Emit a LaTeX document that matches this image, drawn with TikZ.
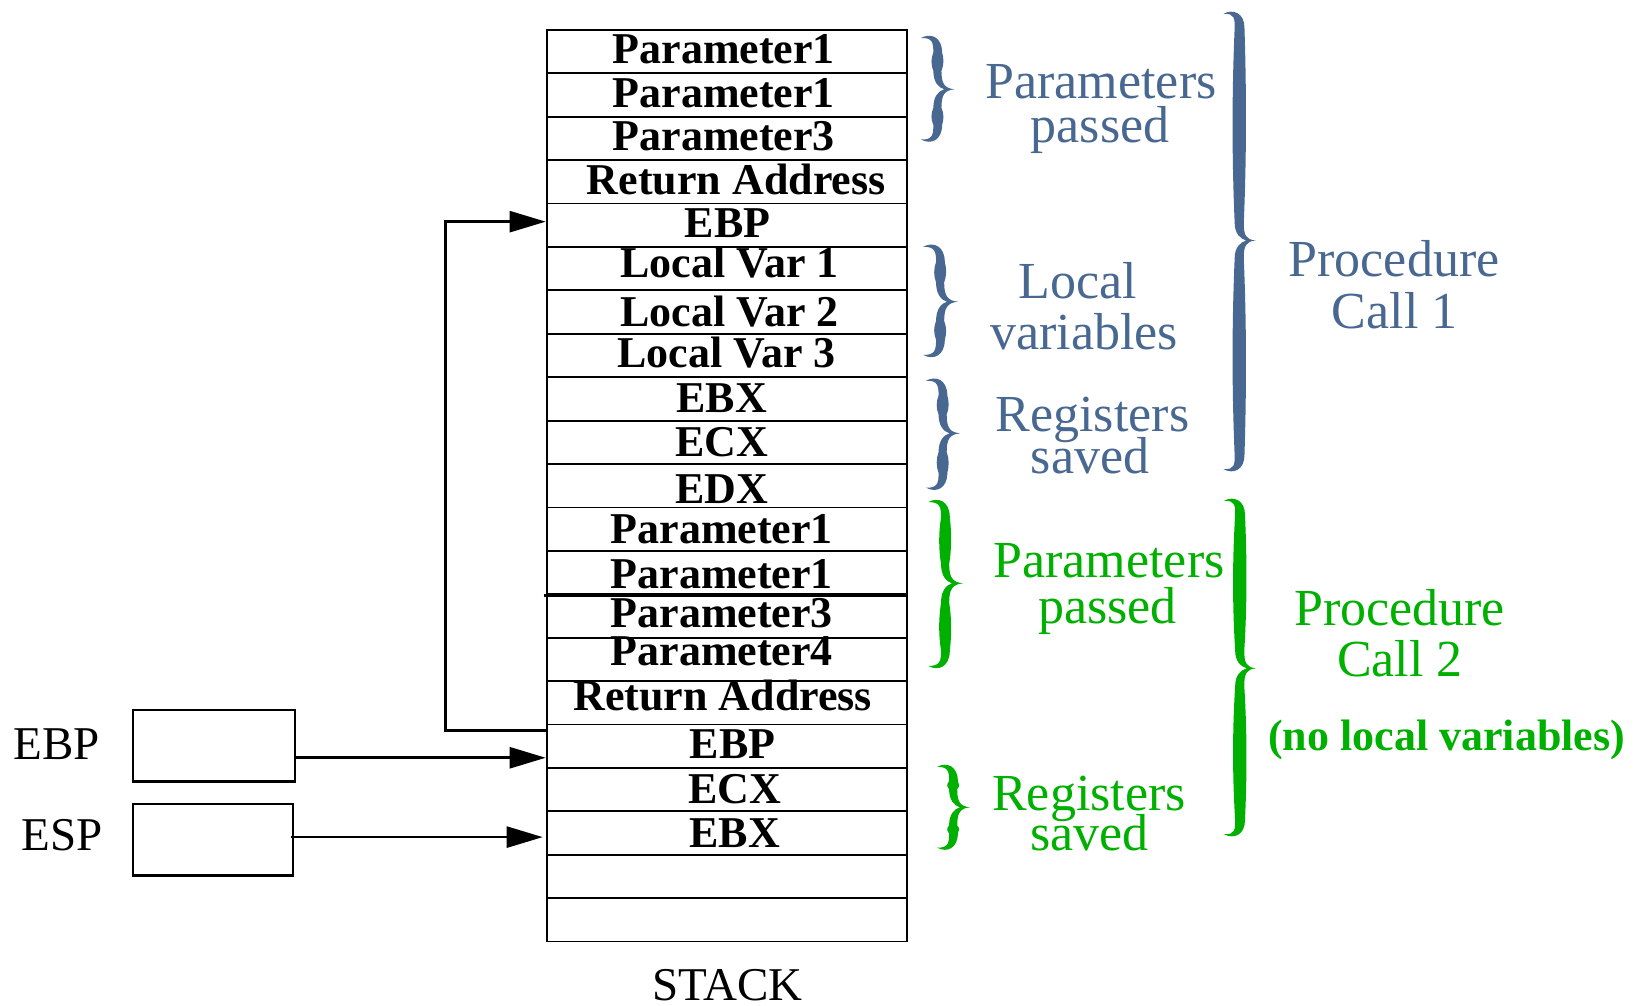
\documentclass[tikz,border=0pt]{standalone}
\usepackage{fontspec}
\setmainfont{Liberation Serif}
\newfontfamily\timesf{Liberation Serif}
\usetikzlibrary{arrows.meta}
\definecolor{cblue}{RGB}{73,104,145}
\definecolor{cgreen}{RGB}{0,176,0}
% filled curly brace: colour, x0, y0, width, height, tip y, stem thickness
\newcommand{\drawbrace}[7]{%
 \pgfmathsetmacro{\bqx}{#2}\pgfmathsetmacro{\bqy}{#3}\pgfmathsetmacro{\bqw}{#4}%
 \pgfmathsetmacro{\bqh}{#5}\pgfmathsetmacro{\bqm}{#6}\pgfmathsetmacro{\bqt}{#7}%
 \pgfmathsetmacro{\bqr}{0.55*\bqw}%
 \pgfmathsetmacro{\bqs}{\bqx+0.48*\bqw}%
 \pgfmathsetmacro{\bqxo}{\bqs+0.4*\bqt}%
 \pgfmathsetmacro{\bqxob}{\bqs+0.55*\bqt}%
 \pgfmathsetmacro{\bqxot}{\bqs+0.35*\bqt}%
 \pgfmathsetmacro{\bqxi}{\bqs-0.3*\bqt}%
 \pgfmathsetmacro{\bqxib}{\bqs-0.5*\bqt}%
 \pgfmathsetmacro{\bqxn}{\bqs+0.3*\bqt+0.1*\bqw}%
 \pgfmathsetmacro{\bqxe}{\bqx+\bqw}%
 \pgfmathsetmacro{\bqya}{\bqy+\bqr}%
 \pgfmathsetmacro{\bqyb}{\bqm-\bqr}%
 \pgfmathsetmacro{\bqyc}{\bqm+\bqr}%
 \pgfmathsetmacro{\bqybot}{\bqy+\bqh}%
 \pgfmathsetmacro{\bqyd}{\bqybot-\bqr}%
 \pgfmathsetmacro{\bqyaa}{\bqya+(\bqyb-\bqya)/3}%
 \pgfmathsetmacro{\bqyab}{\bqya+2*(\bqyb-\bqya)/3}%
 \pgfmathsetmacro{\bqyca}{\bqyc+(\bqyd-\bqyc)/3}%
 \pgfmathsetmacro{\bqycb}{\bqyc+2*(\bqyd-\bqyc)/3}%
 \pgfmathsetmacro{\bqyeone}{\bqy+0.12*\bqw}%
 \pgfmathsetmacro{\bqyetwo}{\bqybot-0.12*\bqw}%
 \fill[#1] (\bqx,\bqyeone)
  .. controls ({\bqx+0.3*\bqw},{\bqy-0.05*\bqw}) and (\bqxo,{\bqy+0.1*\bqw}) .. (\bqxo,\bqya)
  .. controls (\bqxob,\bqyaa) and (\bqxob,\bqyab) .. (\bqxot,\bqyb)
  .. controls (\bqxot,{\bqm-0.3*\bqr}) and ({\bqx+0.7*\bqw},{\bqm-0.03*\bqw}) .. (\bqxe,\bqm)
  .. controls ({\bqx+0.7*\bqw},{\bqm+0.03*\bqw}) and (\bqxot,{\bqm+0.3*\bqr}) .. (\bqxot,\bqyc)
  .. controls (\bqxob,\bqyca) and (\bqxob,\bqycb) .. (\bqxo,\bqyd)
  .. controls (\bqxo,{\bqybot-0.1*\bqw}) and ({\bqx+0.3*\bqw},{\bqybot+0.05*\bqw}) .. (\bqx,\bqyetwo)
  .. controls ({\bqx+0.35*\bqw},{\bqybot-0.1*\bqw}) and (\bqxi,{\bqybot-0.5*\bqr}) .. (\bqxi,\bqyd)
  .. controls (\bqxib,\bqycb) and (\bqxib,\bqyca) .. (\bqxi,\bqyc)
  .. controls (\bqxi,{\bqm+0.4*\bqr}) and ({\bqs+0.1*\bqt},{\bqm+0.05*\bqw}) .. (\bqxn,\bqm)
  .. controls ({\bqs+0.1*\bqt},{\bqm-0.05*\bqw}) and (\bqxi,{\bqm-0.4*\bqr}) .. (\bqxi,\bqyb)
  .. controls (\bqxib,\bqyab) and (\bqxib,\bqyaa) .. (\bqxi,\bqya)
  .. controls (\bqxi,{\bqy+0.5*\bqr}) and ({\bqx+0.35*\bqw},{\bqy+0.1*\bqw}) .. (\bqx,\bqyeone)
  -- cycle;%
}
\begin{document}
\begin{tikzpicture}[x=1pt,y=-1pt,
  cell/.style={draw, line width=1.8pt, minimum width=360.3pt, minimum height=43.41pt, inner sep=0pt, anchor=north west},
  celltext/.style={font=\fontsize{44}{44}\selectfont\bfseries, text height=28pt, text depth=0pt, inner sep=0pt},
  regbox/.style={draw, line width=2.2pt, inner sep=0pt, anchor=north west},
  tlabel/.style={font=\timesf\fontsize{47}{47}\selectfont, anchor=base, inner sep=0pt},
  arr/.style={line width=2.6pt, -{Triangle[length=36pt,width=21pt]}},
  lab/.style={font=\fontsize{52}{52}\selectfont, anchor=base, inner sep=0pt},
  boldlab/.style={font=\fontsize{44}{44}\selectfont\bfseries, anchor=base, inner sep=0pt}
]
\useasboundingbox (0,0) rectangle (1638,1005);

% stack cells
\foreach \i in {1,...,21} {
  \node[cell] (c\i) at (545.7,{29+(\i-1)*43.41}) {};
}
\draw[line width=3pt] ([xshift=-2pt]c13.south west) -- (c13.south east);

% cell texts
\node[celltext] (t1) at ([shift={(-3,-2.5)}]c1.center) {Parameter1};
\node[celltext] (t2) at ([shift={(-3,-2)}]c2.center) {Parameter1};
\node[celltext] (t3) at ([shift={(-3,-1.5)}]c3.center) {Parameter3};
\node[celltext] (t4) at ([shift={(9.5,-1)}]c4.center) {Return Address};
\node[celltext] (t5) at ([shift={(1,-2)}]c5.center) {EBP};
\node[celltext] (t6) at ([shift={(3,-5)}]c6.center) {Local Var 1};
\node[celltext] (t7) at ([shift={(3,0)}]c7.center) {Local Var 2};
\node[celltext] (t8) at ([shift={(0,-1.5)}]c8.center) {Local Var 3};
\node[celltext] (t9) at ([shift={(-5,0)}]c9.center) {EBX};
\node[celltext] (t10) at ([shift={(-5,0)}]c10.center) {ECX};
\node[celltext] (t11) at ([shift={(-5,3.4)}]c11.center) {EDX};
\node[celltext] (t12) at ([shift={(-5,0)}]c12.center) {Parameter1};
\node[celltext] (t13) at ([shift={(-5,1.5)}]c13.center) {Parameter1};
\node[celltext] (t14) at ([shift={(-5,-2)}]c14.center) {Parameter3};
\node[celltext] (t15) at ([shift={(-5,-7.7)}]c15.center) {Parameter4};
\node[celltext] (t16) at ([shift={(-4,-6)}]c16.center) {Return Address};
\node[celltext] (t17) at ([shift={(6,-2)}]c17.center) {EBP};
\node[celltext] (t18) at ([shift={(8,0)}]c18.center) {ECX};
\node[celltext] (t19) at ([shift={(8,0)}]c19.center) {EBX};

% registers
\node[regbox, minimum width=162pt, minimum height=71.3pt] (ebpbox) at (132,709) {};
\node[regbox, minimum width=160pt, minimum height=71.6pt] (espbox) at (132,802.7) {};
\node[tlabel] (ebplbl) at (57,759.3) {EBP};
\node[tlabel] (esplbl) at (62,850) {ESP};
\node[tlabel] (stacklbl) at (727.5,1000.5) {STACK};

% arrows
\draw[arr] ([yshift=-12pt]ebpbox.east) -- ([yshift=-12pt]ebpbox.east -| c17.west);
\draw[arr] ([xshift=-3pt,yshift=2.5pt]espbox.east) -- ([xshift=-3pt,yshift=2.5pt]espbox.east -| c19.west);
\draw[arr] ([yshift=-6.7pt]c17.north west) -- ++(-100,0) |- ([yshift=3.6pt]c5.west);

% blue braces
\drawbrace{cblue}{921}{34}{33.5}{109.5}{89.3}{12.5}
\drawbrace{cblue}{923}{242.7}{35}{116.3}{301.7}{12.5}
\drawbrace{cblue}{926}{376.7}{34}{115}{433.3}{12.5}
\drawbrace{cblue}{1223.5}{10}{32}{463}{240.5}{14}
% green braces
\drawbrace{cgreen}{928}{498}{35}{172}{583.3}{12.5}
\drawbrace{cgreen}{937}{763}{33}{88.5}{807.3}{12.5}
\drawbrace{cgreen}{1224}{497}{32}{341}{668.3}{14}

% blue labels
\node[lab, text=cblue] (bp1) at (1101,98.3) {Parameters};
\node[lab, text=cblue] (bp2) at (1100,142) {passed};
\node[lab, text=cblue] (bl1) at (1077.5,298.3) {Local};
\node[lab, text=cblue] (bl2) at (1084,349) {variables};
\node[lab, text=cblue] (br1) at (1092.5,431.7) {Registers};
\node[lab, text=cblue] (br2) at (1090,473) {saved};
\node[lab, text=cblue] (bc1) at (1394,276.7) {Procedure};
\node[lab, text=cblue] (bc2) at (1394.7,328.3) {Call 1};
% green labels
\node[lab, text=cgreen] (gp1) at (1109,577.3) {Parameters};
\node[lab, text=cgreen] (gp2) at (1107.5,623.3) {passed};
\node[lab, text=cgreen] (gr1) at (1089,810) {Registers};
\node[lab, text=cgreen] (gr2) at (1089.5,850) {saved};
\node[lab, text=cgreen] (gc1) at (1399.5,625.7) {Procedure};
\node[lab, text=cgreen] (gc2) at (1400,676.7) {Call 2};
\node[boldlab, text=cgreen] (gnl) at (1446.7,750) {(no local variables)};
\end{tikzpicture}
\end{document}
